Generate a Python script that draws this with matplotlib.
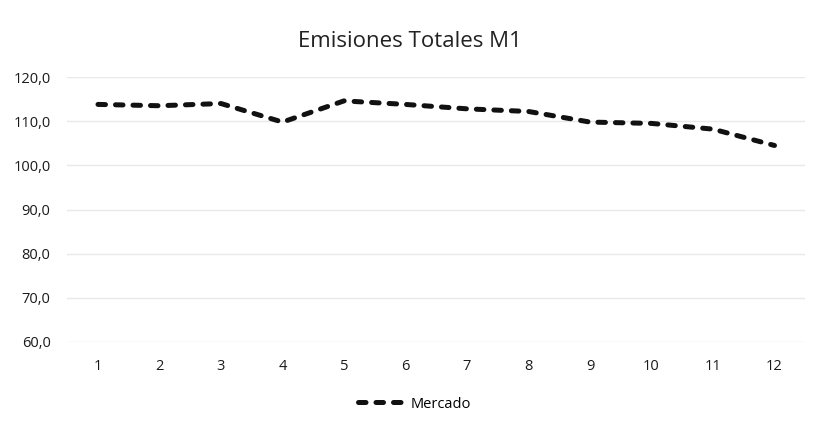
import matplotlib.pyplot as plt
from matplotlib.ticker import FuncFormatter

# Values
periods = [1, 2, 3, 4, 5, 6, 7, 8, 9, 10, 11, 12]
mercado = [113.8, 113.5, 114.0, 109.8, 114.6, 113.8, 112.8, 112.2, 109.8, 109.5, 108.2, 104.5]
y_ticks = [60, 70, 80, 90, 100, 110, 120]

plt.rcParams['font.family'] = ['Open Sans', 'DejaVu Sans']

fig = plt.figure(figsize=(8.2, 4.28), dpi=100)
# plot area: x 67..805 px, y 77..342 px
ax = fig.add_axes([0.082, 0.201, 0.900, 0.619])

ax.plot(periods, mercado, color='#111111', linewidth=3.6,
        linestyle=(0, (1.5, 2.0)), dash_capstyle='round', label='Mercado')

ax.set_xlim(0.5, 12.5)
ax.set_ylim(60, 120)
ax.set_xticks(periods)
ax.set_yticks(y_ticks)
ax.yaxis.set_major_formatter(FuncFormatter(lambda v, p: f'{v:.1f}'.replace('.', ',')))
ax.tick_params(length=0, labelsize=10.5, colors='#1a1a1a')
ax.tick_params(axis='x', pad=12)
ax.tick_params(axis='y', pad=12)
ax.grid(axis='y', color='#e8e8e8', linewidth=1)
ax.set_axisbelow(True)
for s in ax.spines.values():
    s.set_visible(False)

fig.text(0.5, 0.902, 'Emisiones Totales M1', ha='center', va='center',
         fontsize=16, color='#222222')

fig.legend(loc='center', bbox_to_anchor=(0.505, 0.056), frameon=False,
           fontsize=10.5, handlelength=3.4, handletextpad=0.2)

fig.savefig('out.png', dpi=100)
